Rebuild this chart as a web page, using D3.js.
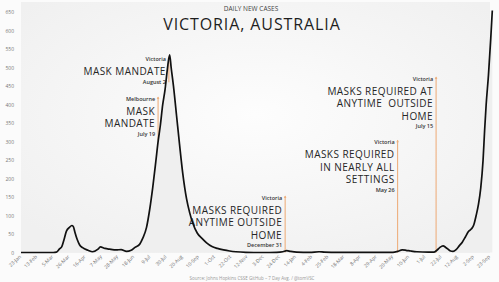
<!DOCTYPE html>
<html>
<head>
<meta charset="utf-8">
<script src="https://cdn.jsdelivr.net/npm/d3@7"></script>
<style>
    html, body { margin: 0; padding: 0; background: #fbfbfb; }
    svg { display: block; font-family: "Open Sans", sans-serif; }
</style>
</head>
<body>
<svg id="chart" width="499" height="282"></svg>
<script>
// 7-day average of daily new cases
let avg_dates = ['2020-01-23', '2020-02-15', '2020-03-05', '2020-03-09', '2020-03-13', '2020-03-16', '2020-03-19', '2020-03-22',
    '2020-03-26', '2020-03-29', '2020-03-31', '2020-04-02', '2020-04-05', '2020-04-08', '2020-04-12', '2020-04-19', '2020-04-25',
    '2020-05-02', '2020-05-05', '2020-05-11', '2020-05-17', '2020-05-26', '2020-06-01', '2020-06-08', '2020-06-14', '2020-06-19',
    '2020-06-25', '2020-06-29', '2020-07-04', '2020-07-08', '2020-07-12', '2020-07-16', '2020-07-19', '2020-07-22', '2020-07-25',
    '2020-07-28', '2020-07-31', '2020-08-03', '2020-08-05', '2020-08-08', '2020-08-12', '2020-08-16', '2020-08-20', '2020-08-25',
    '2020-08-29', '2020-09-02', '2020-09-08', '2020-09-14', '2020-09-20', '2020-09-27', '2020-10-04', '2020-10-12', '2020-10-20',
    '2020-10-28', '2020-11-10', '2020-12-01', '2020-12-20', '2020-12-28', '2021-01-02', '2021-01-07', '2021-01-15', '2021-02-01',
    '2021-02-13', '2021-02-20', '2021-03-10', '2021-04-15', '2021-05-20', '2021-05-26', '2021-06-01', '2021-06-06', '2021-06-12',
    '2021-06-20', '2021-07-05', '2021-07-12', '2021-07-16', '2021-07-20', '2021-07-24', '2021-07-28', '2021-08-02', '2021-08-06',
    '2021-08-10', '2021-08-14', '2021-08-18', '2021-08-22', '2021-08-26', '2021-08-30', '2021-09-02', '2021-09-05', '2021-09-08',
    '2021-09-11', '2021-09-14', '2021-09-16', '2021-09-18', '2021-09-21', '2021-09-24', '2021-09-26'];
let avg_values = [0, 0, 0, 1, 10, 16, 36, 58,
    68, 73, 70, 55, 35, 21, 13, 6, 2,
    9, 15, 11, 9, 7, 8, 3, 6, 14,
    22, 38, 68, 115, 175, 245, 300, 345, 400,
    440, 495, 535, 500, 450, 370, 290, 215, 145,
    108, 80, 52, 38, 26, 16, 11, 7, 4,
    2, 0.5, 0, 0.5, 2, 5, 3, 1, 0.5,
    2, 1, 0.5, 0.5, 0.5, 3, 7, 6, 4,
    2, 1, 1, 6, 14, 18, 13, 5, 3,
    8, 18, 28, 42, 57, 64, 75, 100, 130,
    175, 250, 330, 400, 480, 580, 655];

let y_ticks = [0, 50, 100, 150, 200, 250, 300, 350, 400, 450, 500, 550, 600, 650];
let x_tick_dates = ['2020-01-23', '2020-02-13', '2020-03-05', '2020-03-26', '2020-04-16', '2020-05-07', '2020-05-28', '2020-06-18',
    '2020-07-09', '2020-07-30', '2020-08-20', '2020-09-10', '2020-10-01', '2020-10-22', '2020-11-12', '2020-12-03', '2020-12-24',
    '2021-01-14', '2021-02-04', '2021-02-25', '2021-03-18', '2021-04-08', '2021-04-29', '2021-05-20', '2021-06-10', '2021-07-01',
    '2021-07-22', '2021-08-12', '2021-09-02', '2021-09-23'];

let note_dates = ['2020-07-19', '2020-08-02', '2020-12-31', '2021-05-26', '2021-07-15'];
let note_places = ['Melbourne', 'Victoria', 'Victoria', 'Victoria', 'Victoria'];
let note_titles = [['MASK', 'MANDATE'], ['MASK MANDATE'], ['MASKS REQUIRED', 'ANYTIME OUTSIDE', 'HOME'],
    ['MASKS REQUIRED', 'IN NEARLY ALL', 'SETTINGS'], ['MASKS REQUIRED AT', 'ANYTIME  OUTSIDE', 'HOME']];
let note_day_labels = ['July 19', 'August 2', 'December 31', 'May 26', 'July 15'];

// where each orange marker starts and stops (in case units)
let note_top = [421, 529, 153, 304, 475];
let note_bottom = [304, 461, 0, 0, 0];

let parse_date = d3.timeParse('%Y-%m-%d');
let svg = d3.select('#chart');

let x = d3.scaleTime()
    .domain([parse_date('2020-01-23'), parse_date('2021-09-23')])
    .range([21, 490]);
let y = d3.scaleLinear()
    .domain([0, 650])
    .range([252.5, 12.3]);

let points = avg_dates.map(function (d, i) {
    return {date: parse_date(d), value: avg_values[i]};
});

// plot background
let defs = svg.append('defs');
let grad = defs.append('radialGradient').attr('id', 'bg_grad')
    .attr('cx', '50%').attr('cy', '45%').attr('r', '65%');
grad.append('stop').attr('offset', '0%').attr('stop-color', '#fdfdfd');
grad.append('stop').attr('offset', '100%').attr('stop-color', '#f0f0f0');

svg.append('rect')
    .attr('x', 21).attr('y', 2)
    .attr('width', 469).attr('height', 251)
    .style('fill', 'url(#bg_grad)');

svg.append('path')
    .datum(points)
    .attr('d', d3.area()
        .x(d => x(d.date))
        .y0(y(0))
        .y1(d => y(d.value))
        .curve(d3.curveMonotoneX))
    .style('fill', '#efefef');

// y axis
let y_axis = svg.append('g')
    .attr('transform', 'translate(14,0)')
    .call(d3.axisLeft(y).tickValues(y_ticks).tickSize(0).tickPadding(0));
y_axis.select('.domain').remove();
y_axis.selectAll('text')
    .style('font-size', '5px')
    .style('font-family', '"Open Sans", sans-serif')
    .style('fill', '#777');

// x axis
let x_axis = svg.append('g')
    .attr('transform', 'translate(0,253)')
    .call(d3.axisBottom(x)
        .tickValues(x_tick_dates.map(parse_date))
        .tickFormat(d3.timeFormat('%-d-%b'))
        .tickSize(0));
x_axis.select('.domain').remove();
x_axis.selectAll('text')
    .attr('x', -3)
    .attr('y', 1)
    .attr('dy', '0.35em')
    .attr('transform', 'rotate(-45)')
    .attr('text-anchor', 'end')
    .style('font-size', '5px')
    .style('font-family', '"Open Sans", sans-serif')
    .style('fill', '#6f6f6f');

// orange markers and their notes
let orange = '#eeb07f';
note_dates.forEach(function (d, i) {
    let line_x = x(parse_date(d));
    let top_y = y(note_top[i]);
    let text_x = line_x - 3;

    svg.append('line')
        .attr('x1', line_x).attr('x2', line_x)
        .attr('y1', top_y).attr('y2', y(note_bottom[i]))
        .attr('stroke', orange)
        .attr('stroke-width', 1.1);
    svg.append('path')
        .attr('d', 'M' + (line_x - 1.3) + ',' + (top_y + 2) + 'L' + line_x + ',' + (top_y - 0.5) + 'L' + (line_x + 1.3) + ',' + (top_y + 2) + 'Z')
        .attr('fill', orange);

    let g = svg.append('g').attr('text-anchor', 'end');
    g.append('text')
        .attr('x', text_x).attr('y', top_y + 4)
        .style('font-size', '5.5px').style('font-weight', 600).style('fill', '#333')
        .text(note_places[i]);

    let title_y = top_y + 18;
    note_titles[i].forEach(function (t, j) {
        g.append('text')
            .attr('x', text_x).attr('y', title_y + j * 12.5)
            .style('font-size', '10px').style('font-weight', 500).style('fill', '#262626')
            .style('letter-spacing', '0.45px')
            .style('white-space', 'pre')
            .attr('xml:space', 'preserve')
            .text(t);
    });
    g.append('text')
        .attr('x', text_x).attr('y', title_y + (note_titles[i].length - 1) * 12.5 + 8.5)
        .style('font-size', '5.5px').style('font-weight', 600).style('fill', '#333')
        .text(note_day_labels[i]);
});

// 7-day average line
svg.append('path')
    .datum(points)
    .attr('d', d3.line()
        .x(d => x(d.date))
        .y(d => y(d.value))
        .curve(d3.curveMonotoneX))
    .style('fill', 'none')
    .style('stroke', '#111')
    .style('stroke-width', 1.7)
    .style('stroke-linejoin', 'round');

// titles
svg.append('text')
    .attr('x', 251).attr('y', 11)
    .attr('text-anchor', 'middle')
    .style('font-size', '6.5px').style('fill', '#444')
    .text('DAILY NEW CASES');
svg.append('text')
    .attr('x', 252).attr('y', 29.5)
    .attr('text-anchor', 'middle')
    .style('font-size', '16px').style('font-weight', 500).style('fill', '#1e1e1e')
    .style('letter-spacing', '0.9px')
    .text('VICTORIA, AUSTRALIA');

svg.append('text')
    .attr('x', 252).attr('y', 279.5)
    .attr('text-anchor', 'middle')
    .style('font-size', '4.5px').style('fill', '#999')
    .text('Source: Johns Hopkins CSSE GitHub \u2013 7 Day Avg. / @tomVSC');
</script>
</body>
</html>
